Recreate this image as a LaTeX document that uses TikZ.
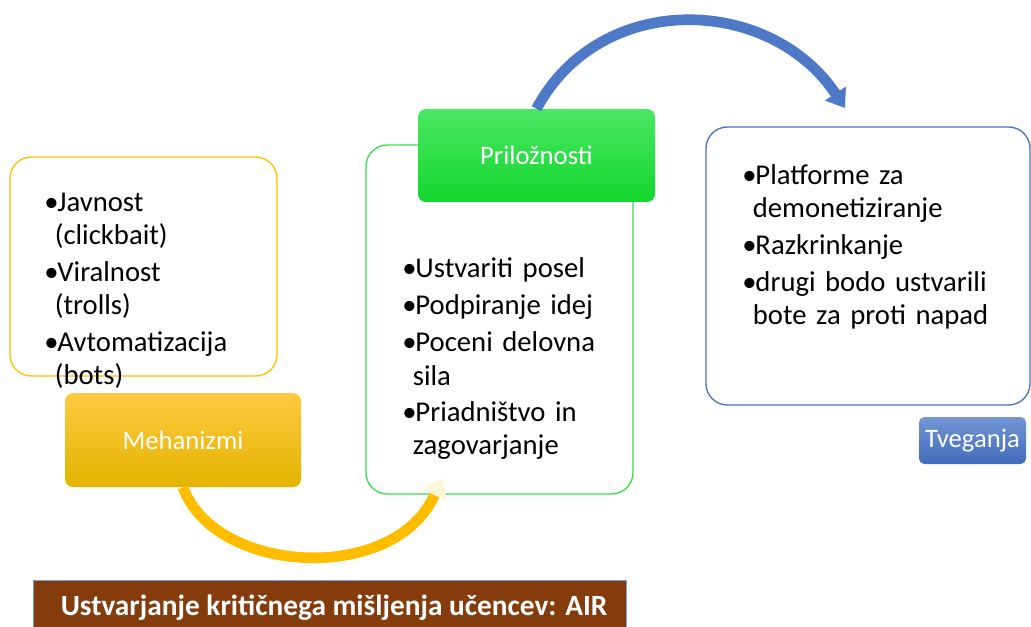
\documentclass[tikz,border=0pt]{standalone}
\usepackage{fontspec}
\setmainfont{Carlito}
\usetikzlibrary{arrows.meta}
\definecolor{mehyellow}{HTML}{FFC000}
\definecolor{mehtop}{HTML}{FFC940}
\definecolor{mehbottom}{HTML}{E4B400}
\definecolor{prilgreen}{HTML}{3BDC4E}
\definecolor{priltop}{HTML}{4BE863}
\definecolor{prilbottom}{HTML}{12D62D}
\definecolor{tvegblue}{HTML}{4472C4}
\definecolor{airbrown}{HTML}{843C0C}
\newcommand\bul[1]{\par\parskip=3pt\hangindent=0.37em\hangafter=1\noindent\makebox[0.46em][l]{\textbullet}#1}

\begin{document}
\begin{tikzpicture}[
    x = 0.75pt, y = -0.75pt,
    frame/.style = {draw=#1, line width=1pt, rounded corners=16pt, fill=white},
    head/.style = {rounded corners=6pt, text=white, inner sep=2pt,
        font=\fontsize{20}{24}\selectfont},
    list/.style = {anchor=base west, inner sep=0pt, text width=250pt,
        font=\fontsize{21.5}{24.75}\selectfont},
    bigarrow/.style = {line width=8pt, draw=#1}
  ]
  \useasboundingbox (0,0) rectangle (1031,627);

  \node[frame=mehyellow, minimum width=200.25pt, minimum height=164.25pt] (mehbox) at (143.5,266.5) {};
  \node[frame=prilgreen, minimum width=200.25pt, minimum height=261.75pt] (prilbox) at (499.5,319.5) {};
  \node[frame=tvegblue, minimum width=243pt, minimum height=208.5pt] (tvegbox) at (868,266) {};

  \node[list] (mehlist) at (44,175) {\bul{Javnost\newline(clickbait)}\bul{Viralnost\newline(trolls)}\bul{Avtomatizacija\newline(bots)}\par};
  \node[list] (prillist) at (402,241) {\bul{Ustvariti posel}\bul{Podpiranje idej}\bul{Poceni delovna\newline sila}\bul{Priadništvo in\newline zagovarjanje}\par};
  \node[list] (tveglist) at (742,148) {\bul{Platforme za\newline demonetiziranje}\bul{Razkrinkanje}\bul{drugi bodo ustvarili\newline bote za proti napad}\par};

  \node[head, top color=mehtop, middle color=mehyellow, bottom color=mehbottom,
    minimum width=177pt, minimum height=70.5pt] (mehhead) at (183,440) {Mehanizmi};
  \node[head, top color=priltop, bottom color=prilbottom,
    minimum width=177.75pt, minimum height=69.75pt] (prilhead) at (536.5,155.5) {Priložnosti};
  \node[head, rounded corners=4pt, top color=tvegblue!75!white, bottom color=tvegblue!95!black,
    minimum width=80.25pt, minimum height=35.25pt] (tveghead) at (972.5,440.5) {Tveganja};

  \node[fill=airbrown, draw=tvegblue!70!white, line width=0.6pt, text=white,
    font=\fontsize{22}{26}\selectfont\bfseries,
    minimum width=444.75pt, minimum height=42pt] (air) at (329.5,608) {\hspace*{7pt}Ustvarjanje kritičnega mišljenja učencev: AIR};

  \coordinate (ytip) at (442,478);
  \coordinate (btip) at (845,108);
  \draw[bigarrow=mehyellow!95!orange, -{Triangle[width=19pt,length=14pt,color=mehyellow!15!white]}]
    (mehhead.south) .. controls (215,575) and (395,585) .. (ytip);
  \draw[bigarrow=tvegblue!95!white, -{Triangle[width=18pt,length=13pt]}]
    (prilhead.north) .. controls (600,-10) and (770,-5) .. (btip);
\end{tikzpicture}
\end{document}
